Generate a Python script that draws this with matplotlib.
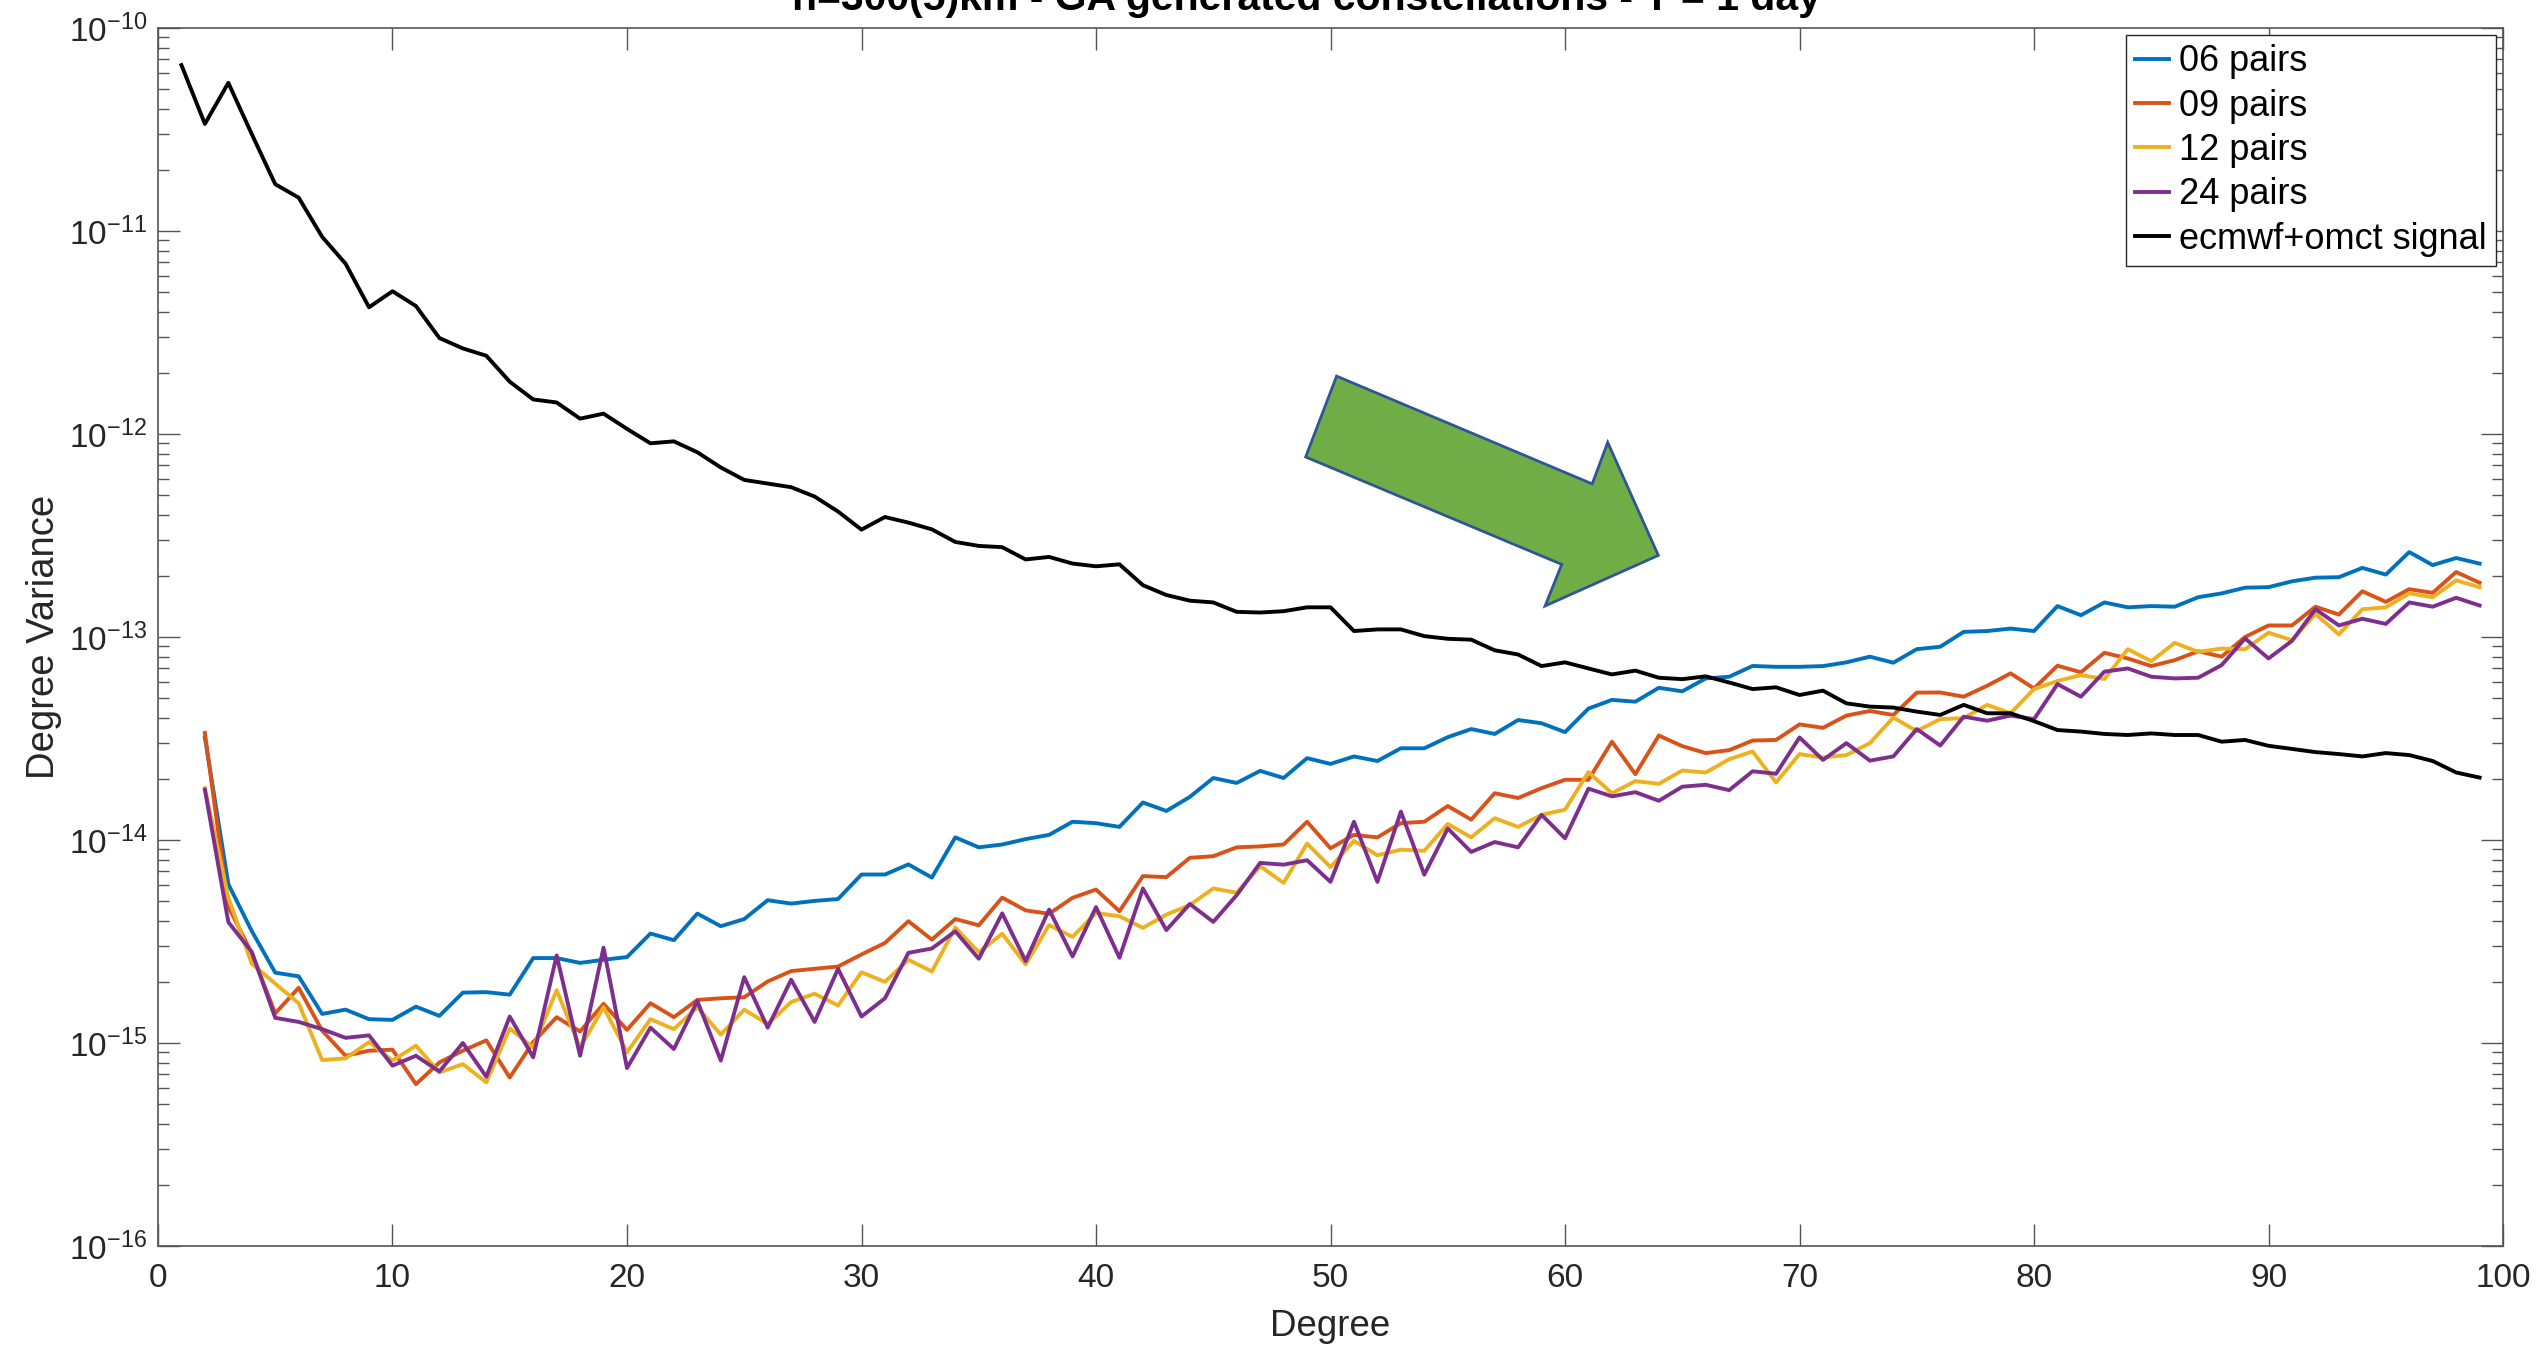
import numpy as np
import matplotlib
matplotlib.use("Agg")
import matplotlib.pyplot as plt
from matplotlib.patches import Polygon
from matplotlib.ticker import FixedLocator, FuncFormatter, LogLocator, NullFormatter

plt.rcParams['font.family'] = ['Liberation Sans', 'DejaVu Sans']
plt.rcParams['mathtext.fontset'] = 'custom'
plt.rcParams['mathtext.rm'] = 'Liberation Sans'
plt.rcParams['mathtext.it'] = 'Liberation Sans:italic'
plt.rcParams['axes.unicode_minus'] = False

TITLE = 'h=300(5)km - GA generated constellations - T = 1 day'

# degree variance values
deg_signal = list(range(1, 100))
deg_pairs = list(range(2, 100))

signal = [
    6.57e-11, 3.37e-11, 5.37e-11, 3.0e-11, 1.70e-11, 1.46e-11, 9.36e-12, 6.9e-12, 4.21e-12, 5.05e-12,
    4.27e-12, 2.97e-12, 2.64e-12, 2.43e-12, 1.81e-12, 1.48e-12, 1.43e-12, 1.19e-12, 1.26e-12, 1.06e-12,
    9.0e-13, 9.2e-13, 8.13e-13, 6.84e-13, 5.94e-13, 5.70e-13, 5.47e-13, 4.92e-13, 4.15e-13, 3.38e-13,
    3.9e-13, 3.66e-13, 3.39e-13, 2.94e-13, 2.81e-13, 2.77e-13, 2.41e-13, 2.48e-13, 2.30e-13, 2.23e-13,
    2.28e-13, 1.80e-13, 1.61e-13, 1.51e-13, 1.48e-13, 1.33e-13, 1.32e-13, 1.34e-13, 1.40e-13, 1.40e-13,
    1.07e-13, 1.09e-13, 1.09e-13, 1.01e-13, 9.8e-14, 9.7e-14, 8.6e-14, 8.2e-14, 7.19e-14, 7.5e-14,
    7.0e-14, 6.54e-14, 6.83e-14, 6.3e-14, 6.2e-14, 6.4e-14, 5.97e-14, 5.54e-14, 5.65e-14, 5.18e-14,
    5.44e-14, 4.71e-14, 4.54e-14, 4.49e-14, 4.29e-14, 4.13e-14, 4.63e-14, 4.21e-14, 4.21e-14, 3.85e-14,
    3.48e-14, 3.42e-14, 3.33e-14, 3.29e-14, 3.35e-14, 3.29e-14, 3.29e-14, 3.05e-14, 3.11e-14, 2.91e-14,
    2.81e-14, 2.71e-14, 2.65e-14, 2.58e-14, 2.68e-14, 2.62e-14, 2.45e-14, 2.15e-14, 2.03e-14,
]

pairs_06 = [
    3.2e-14, 6.06e-15, 3.56e-15, 2.22e-15, 2.13e-15, 1.39e-15, 1.46e-15, 1.31e-15, 1.30e-15,
    1.51e-15, 1.36e-15, 1.77e-15, 1.78e-15, 1.73e-15, 2.62e-15, 2.62e-15, 2.48e-15, 2.57e-15, 2.65e-15,
    3.46e-15, 3.21e-15, 4.34e-15, 3.76e-15, 4.08e-15, 5.05e-15, 4.86e-15, 5.01e-15, 5.12e-15, 6.76e-15,
    6.76e-15, 7.58e-15, 6.53e-15, 1.03e-14, 9.2e-15, 9.5e-15, 1.01e-14, 1.06e-14, 1.23e-14, 1.21e-14,
    1.16e-14, 1.53e-14, 1.39e-14, 1.63e-14, 2.02e-14, 1.91e-14, 2.19e-14, 2.02e-14, 2.53e-14, 2.37e-14,
    2.58e-14, 2.45e-14, 2.83e-14, 2.83e-14, 3.21e-14, 3.52e-14, 3.33e-14, 3.90e-14, 3.76e-14, 3.40e-14,
    4.44e-14, 4.9e-14, 4.8e-14, 5.62e-14, 5.4e-14, 6.25e-14, 6.37e-14, 7.2e-14, 7.13e-14, 7.13e-14,
    7.19e-14, 7.5e-14, 8.0e-14, 7.47e-14, 8.71e-14, 8.95e-14, 1.06e-13, 1.07e-13, 1.10e-13, 1.07e-13,
    1.42e-13, 1.28e-13, 1.48e-13, 1.40e-13, 1.42e-13, 1.41e-13, 1.57e-13, 1.64e-13, 1.75e-13, 1.76e-13,
    1.88e-13, 1.96e-13, 1.97e-13, 2.19e-13, 2.03e-13, 2.62e-13, 2.26e-13, 2.45e-13, 2.30e-13,
]

pairs_09 = [
    3.37e-14, 4.7e-15, 2.76e-15, 1.40e-15, 1.87e-15, 1.15e-15, 8.65e-16, 9.16e-16, 9.27e-16,
    6.27e-16, 8.02e-16, 9.16e-16, 1.03e-15, 6.76e-16, 1.01e-15, 1.34e-15, 1.14e-15, 1.56e-15, 1.16e-15,
    1.57e-15, 1.34e-15, 1.63e-15, 1.66e-15, 1.68e-15, 2.01e-15, 2.26e-15, 2.32e-15, 2.38e-15, 2.73e-15,
    3.11e-15, 3.98e-15, 3.23e-15, 4.08e-15, 3.8e-15, 5.2e-15, 4.5e-15, 4.33e-15, 5.19e-15, 5.70e-15,
    4.46e-15, 6.64e-15, 6.56e-15, 8.17e-15, 8.32e-15, 9.2e-15, 9.3e-15, 9.5e-15, 1.23e-14, 9.1e-15,
    1.06e-14, 1.03e-14, 1.21e-14, 1.23e-14, 1.47e-14, 1.26e-14, 1.70e-14, 1.61e-14, 1.80e-14, 1.98e-14,
    1.98e-14, 3.05e-14, 2.11e-14, 3.27e-14, 2.9e-14, 2.68e-14, 2.77e-14, 3.09e-14, 3.11e-14, 3.71e-14,
    3.57e-14, 4.10e-14, 4.32e-14, 4.13e-14, 5.32e-14, 5.33e-14, 5.08e-14, 5.75e-14, 6.62e-14, 5.58e-14,
    7.22e-14, 6.70e-14, 8.36e-14, 7.84e-14, 7.19e-14, 7.69e-14, 8.51e-14, 8.0e-14, 1.0e-13, 1.14e-13,
    1.14e-13, 1.41e-13, 1.29e-13, 1.68e-13, 1.49e-13, 1.72e-13, 1.65e-13, 2.09e-13, 1.85e-13,
]

pairs_12 = [
    1.8e-14, 5.2e-15, 2.46e-15, 1.96e-15, 1.57e-15, 8.24e-16, 8.4e-16, 1.01e-15, 8.19e-16,
    9.7e-16, 7.16e-16, 7.87e-16, 6.4e-16, 1.18e-15, 9.5e-16, 1.82e-15, 9.5e-16, 1.50e-15, 9.0e-16,
    1.31e-15, 1.17e-15, 1.50e-15, 1.10e-15, 1.46e-15, 1.24e-15, 1.59e-15, 1.75e-15, 1.53e-15, 2.23e-15,
    2.0e-15, 2.57e-15, 2.25e-15, 3.7e-15, 2.8e-15, 3.45e-15, 2.44e-15, 3.81e-15, 3.33e-15, 4.37e-15,
    4.21e-15, 3.69e-15, 4.29e-15, 4.78e-15, 5.77e-15, 5.50e-15, 7.43e-15, 6.15e-15, 9.6e-15, 7.35e-15,
    9.9e-15, 8.41e-15, 8.96e-15, 8.85e-15, 1.20e-14, 1.03e-14, 1.28e-14, 1.16e-14, 1.33e-14, 1.41e-14,
    2.16e-14, 1.70e-14, 1.95e-14, 1.89e-14, 2.2e-14, 2.15e-14, 2.5e-14, 2.73e-14, 1.92e-14, 2.65e-14,
    2.55e-14, 2.62e-14, 3.0e-14, 4.01e-14, 3.44e-14, 3.94e-14, 3.98e-14, 4.63e-14, 4.21e-14, 5.54e-14,
    6.07e-14, 6.49e-14, 6.21e-14, 8.71e-14, 7.60e-14, 9.35e-14, 8.45e-14, 8.77e-14, 8.71e-14, 1.05e-13,
    9.64e-14, 1.30e-13, 1.03e-13, 1.37e-13, 1.40e-13, 1.64e-13, 1.57e-13, 1.90e-13, 1.76e-13,
]

pairs_24 = [
    1.77e-14, 3.94e-15, 2.81e-15, 1.33e-15, 1.27e-15, 1.17e-15, 1.06e-15, 1.09e-15, 7.73e-16,
    8.65e-16, 7.24e-16, 1.0e-15, 6.82e-16, 1.35e-15, 8.5e-16, 2.70e-15, 8.65e-16, 2.95e-15, 7.52e-16,
    1.19e-15, 9.34e-16, 1.61e-15, 8.19e-16, 2.11e-15, 1.19e-15, 2.05e-15, 1.27e-15, 2.32e-15, 1.35e-15,
    1.66e-15, 2.78e-15, 2.92e-15, 3.55e-15, 2.6e-15, 4.35e-15, 2.53e-15, 4.54e-15, 2.67e-15, 4.67e-15,
    2.63e-15, 5.77e-15, 3.60e-15, 4.84e-15, 3.95e-15, 5.35e-15, 7.71e-15, 7.56e-15, 7.95e-15, 6.22e-15,
    1.23e-14, 6.22e-15, 1.38e-14, 6.75e-15, 1.14e-14, 8.73e-15, 9.77e-15, 9.2e-15, 1.33e-14, 1.02e-14,
    1.79e-14, 1.64e-14, 1.72e-14, 1.56e-14, 1.83e-14, 1.87e-14, 1.76e-14, 2.18e-14, 2.12e-14, 3.2e-14,
    2.48e-14, 3.0e-14, 2.46e-14, 2.58e-14, 3.52e-14, 2.92e-14, 4.05e-14, 3.87e-14, 4.10e-14, 3.94e-14,
    5.86e-14, 5.08e-14, 6.75e-14, 7.0e-14, 6.37e-14, 6.25e-14, 6.3e-14, 7.27e-14, 9.84e-14, 7.84e-14,
    9.57e-14, 1.37e-13, 1.14e-13, 1.23e-13, 1.16e-13, 1.48e-13, 1.41e-13, 1.56e-13, 1.43e-13,
]

series = [
    ('06 pairs', pairs_06, '#0072BD'),
    ('09 pairs', pairs_09, '#D95319'),
    ('12 pairs', pairs_12, '#EDB120'),
    ('24 pairs', pairs_24, '#7E2F8E'),
]

# green block arrow drawn on top of the chart (axes fraction)
arrow_shape = [(0.5026, 0.7142), (0.6116, 0.6257), (0.6182, 0.6598), (0.6398, 0.5670),
               (0.5915, 0.5255), (0.5986, 0.5596), (0.4894, 0.6478)]


def log_label(val, pos):
    return r'$\mathregular{10^{%d}}$' % int(round(np.log10(val)))


fig = plt.figure(figsize=(25.44, 13.47), dpi=100)
ax = fig.add_axes([0.0621, 0.075, 0.9218, 0.9042])

for name, vals, col in series:
    ax.plot(deg_pairs, vals, color=col, lw=2.8, label=name)
ax.plot(deg_signal, signal, color='black', lw=2.8, label='ecmwf+omct signal')

ax.set_yscale('log')
ax.set_xlim(0, 100)
ax.set_ylim(1e-16, 1e-10)
ax.xaxis.set_major_locator(FixedLocator(np.arange(0, 101, 10)))
ax.yaxis.set_major_locator(LogLocator(base=10, numticks=20))
ax.yaxis.set_minor_locator(LogLocator(base=10, subs=np.arange(2, 10), numticks=20))
ax.yaxis.set_major_formatter(FuncFormatter(log_label))
ax.yaxis.set_minor_formatter(NullFormatter())

ax.tick_params(which='both', direction='in', top=True, right=True, colors='#555555',
               labelcolor='#262626')
ax.tick_params(axis='x', labelsize=24, pad=12)
ax.tick_params(axis='y', labelsize=24, pad=8)
ax.tick_params(which='major', length=16, width=1.0)
ax.tick_params(which='minor', length=8, width=1.0)
for sp in ax.spines.values():
    sp.set_color('#555555')
    sp.set_linewidth(1.2)

ax.set_xlabel('Degree', fontsize=26.5, color='#262626', labelpad=11)
ax.set_ylabel('Degree Variance', fontsize=27.5, color='#262626', labelpad=5)

leg = ax.legend(loc='upper right', fontsize=26, frameon=True, fancybox=False,
                framealpha=1, edgecolor='#262626', handlelength=0.95, handletextpad=0.28,
                labelspacing=0.26, borderpad=0.25, borderaxespad=0.2)
leg.get_frame().set_linewidth(1.0)

ax.add_patch(Polygon(arrow_shape, closed=True, transform=ax.transAxes,
                     facecolor='#70AD47', edgecolor='#2F5597', lw=2.0, zorder=5))

fig.text(0.5137, 1 - 10 / 1347, TITLE, ha='center', va='baseline',
         fontsize=29.5, fontweight='bold')

fig.savefig('out.png', dpi=100)
